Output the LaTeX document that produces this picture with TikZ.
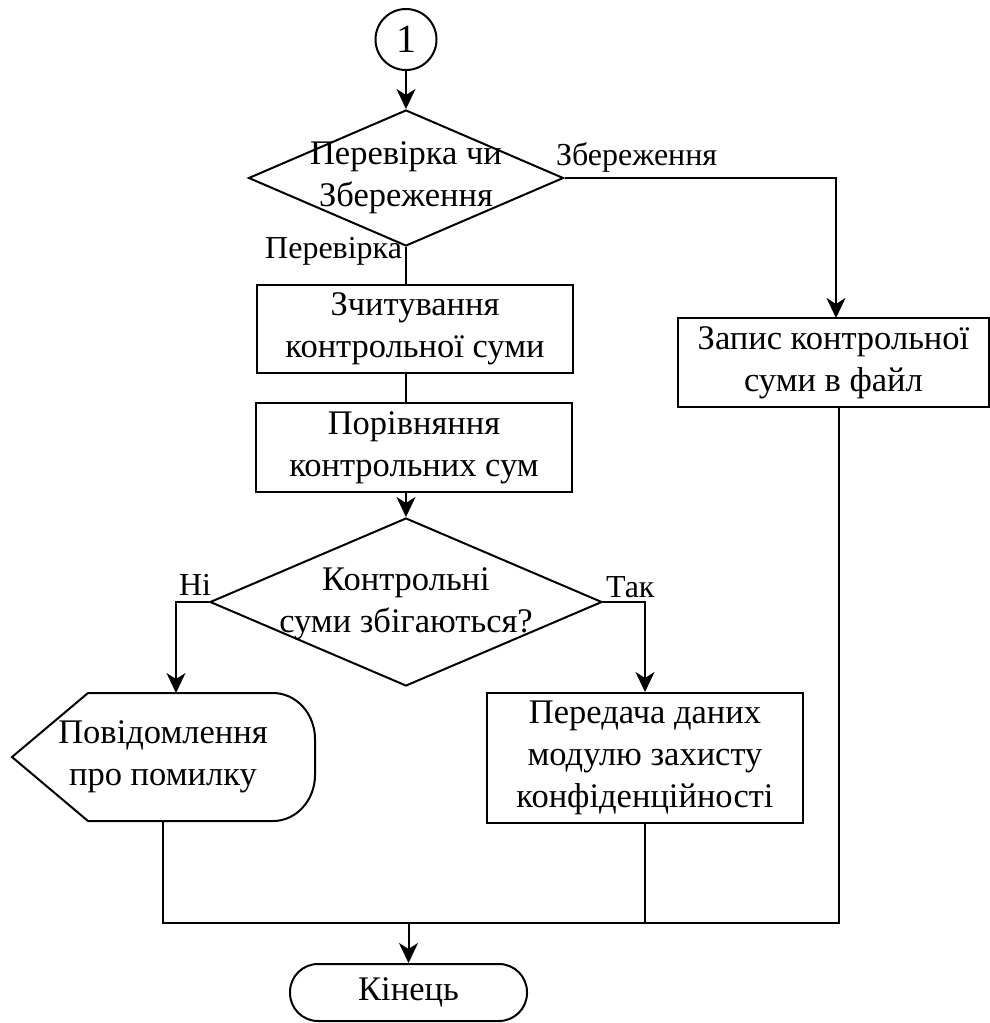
\documentclass[tikz,border=0pt]{standalone}
\usepackage{fontspec}
\setmainfont{Liberation Serif}
\usetikzlibrary{shapes.geometric,arrows.meta}
\begin{document}
\begin{tikzpicture}[x=1pt,y=1pt,
  line width=2pt,
  arr/.style={-{Stealth[length=20pt,width=19pt,inset=6pt]}},
  txt/.style={font=\fontsize{34.5}{42}\selectfont, align=center, inner sep=0pt},
  lbl/.style={font=\fontsize{32}{38}\selectfont, inner sep=0pt},
  procbox/.style={draw, rectangle, inner sep=0pt, font=\fontsize{34.5}{42}\selectfont, align=center},
  decision/.style={draw, diamond, inner sep=0pt},
]
\useasboundingbox (0,0) rectangle (989,-1023);

% start connector
\node[draw, circle, minimum size=61pt, inner sep=0pt, font=\fontsize{40}{44}\selectfont] (c1) at (406,-39.5) {1};

% first decision
\node[decision, minimum width=315pt, minimum height=136pt] (d1) at (406,-178) {};
\node[txt] (d1t) at (406,-178) {Перевірка чи\\Збереження};

% boxes
\node[procbox, minimum width=316pt, minimum height=88pt] (b1) at (415,-329) {Зчитування\\контрольної суми};
\node[procbox, minimum width=316pt, minimum height=89pt] (b2) at (414,-447.5) {Порівняння\\контрольних сум};
\node[procbox, minimum width=311pt, minimum height=89pt] (zap) at (833.5,-362.5) {Запис контрольної\\суми в файл};

% second decision
\node[decision, minimum width=392pt, minimum height=168pt] (d2) at (406,-602) {};
\node[txt] (d2t) at (406,-604) {Контрольні\\суми збігаються?};

% display shape
\draw (88,-693) -- (273,-693) arc[start angle=90, end angle=0, x radius=42pt, y radius=46pt]
      -- (315,-775) arc[start angle=0, end angle=-90, x radius=42pt, y radius=46pt]
      -- (88,-821) -- (12,-757) -- cycle;
\node[txt, minimum width=303pt, minimum height=128pt] (msg) at (163,-757) {Повідомлення\\про помилку};

\node[procbox, minimum width=316pt, minimum height=130pt] (b3) at (645,-758) {Передача даних\\модулю захисту\\конфіденційності};

% terminator
\node[draw, rectangle, rounded corners=28pt, minimum width=237pt, minimum height=57pt, inner sep=0pt, txt] (term) at (408.5,-992.5) {Кінець};

% edge labels
\node[lbl, anchor=base west] (lz) at (555,-165) {Збереження};
\node[lbl, anchor=base east] (lp) at (403,-258) {Перевірка};
\node[lbl, anchor=base west] (ln) at (178,-595) {Ні};
\node[lbl, anchor=base west] (lt) at (605,-597) {Так};

% coordinates
\coordinate (zapin) at (836,-318);
\coordinate (zapout) at (839,-407);
\coordinate (msgin) at (176,-693);
\coordinate (jl) at (163,-923);
\coordinate (jr) at (839,-923);
\coordinate (j) at (408.5,-923);

% connectors
\draw[arr] (c1) -- (d1.north);
\draw[arr] (d1.east) -| (zapin);
\draw (d1.south) -- (d1.south |- b1.north);
\draw (d1.south |- b1.south) -- (d1.south |- b2.north);
\draw[arr] (d1.south |- b2.south) -- (d2.north);
\draw[arr] (d2.west) -| (msgin);
\draw[arr] (d2.east) -| (b3.north);
\draw (msg.south) -- (jl) -- (jr) -- (zapout);
\draw (b3.south) -- (b3.south |- j);
\draw[arr] (j) -- (term.north);
\end{tikzpicture}
\end{document}
